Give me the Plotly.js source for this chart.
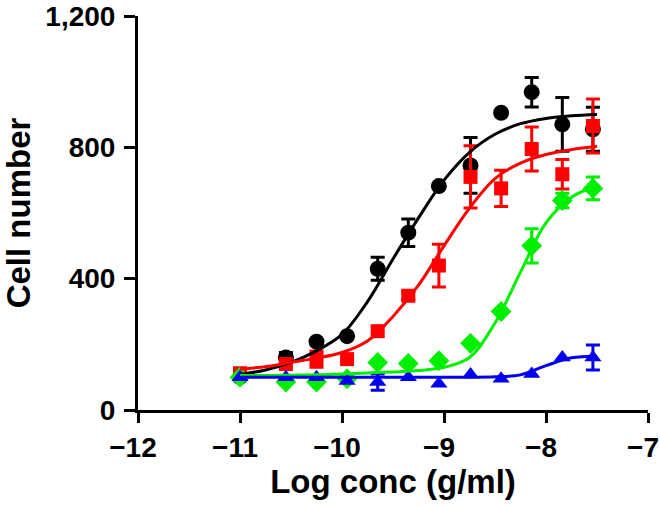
<!DOCTYPE html>
<html>
<head>
<meta charset="utf-8">
<script src="https://cdn.plot.ly/plotly-3.0.1.min.js"></script>
<style>html,body{margin:0;padding:0;background:#fff}#chart{width:660px;height:507px}</style>
</head>
<body>
<div id="chart"></div>
<script>
// Data points (log concentration, g/ml)
const logConc = [-11, -10.55, -10.25, -9.95, -9.65, -9.35, -9.05, -8.74, -8.44, -8.14, -7.84, -7.54];

const blackY   = [100, 160, 208, 225, 430, 540, 682, 745, 905, 968, 870, 855];
const blackErr = [null, 15, null, null, 35, 42, null, 85, null, 45, 82, 67];

const redY   = [112, 140, 155, 155, 240, 348, 440, 710, 675, 795, 718, 865];
const redErr = [null, null, 25, null, null, 12, 65, 95, 55, 67, 45, 82];

const greenY   = [100, 85, 85, 95, 145, 142, 150, 203, 300, 500, 638, 675];
const greenErr = [null, null, null, null, null, null, null, null, null, 52, 22, 35];

const blueY   = [100, 100, 100, 88, 85, 100, 80, 108, 95, 110, 160, 160];
const blueErr = [null, null, null, null, 25, null, null, null, null, null, null, 38];

// Fitted curves
const curveX     = [-11, -10.75, -10.5, -10.25, -10, -9.75, -9.5, -9.25, -9, -8.75, -8.5, -8.25, -8, -7.75, -7.5];
const blackCurve = [108, 122, 145, 180, 230, 330, 460, 585, 700, 785, 840, 872, 888, 896, 900];
const redCurve   = [125, 132, 145, 158, 175, 210, 285, 380, 500, 615, 705, 752, 778, 793, 803];
const greenCurve = [105, 105, 106, 107, 110, 113, 116, 120, 130, 160, 265, 420, 570, 648, 683];
const blueCurve  = [100, 100, 100, 100, 100, 100, 100, 100, 100, 100, 101, 107, 135, 159, 164];

// Axis ticks
const xTicks = [-12, -11, -10, -9, -8, -7];
const yTicks = [0, 400, 800, 1200];
const yTickText = ["0", "400", "800", "1,200"];

const toErr = a => a.map(v => (v === null ? NaN : v));

function pts(y, err, color, symbol, size) {
  return {
    x: logConc, y: y, type: 'scatter', mode: 'markers',
    marker: {color: color, symbol: symbol, size: size, line: {width: 0}},
    error_y: {type: 'data', array: toErr(err), visible: true, color: color, thickness: 3, width: 7},
    showlegend: false, hoverinfo: 'skip'
  };
}
function curve(y, color) {
  return {
    x: curveX, y: y, type: 'scatter', mode: 'lines',
    line: {color: color, width: 3, shape: 'spline', smoothing: 1},
    showlegend: false, hoverinfo: 'skip'
  };
}

const traces = [
  pts(blackY, blackErr, '#000000', 'circle', 16),
  pts(redY, redErr, '#ff0000', 'square', 14),
  pts(greenY, greenErr, '#00ee00', 'diamond', 16),
  pts(blueY, blueErr, '#0000ee', 'triangle-up', 15),
  curve(blackCurve, '#000000'),
  curve(redCurve, '#ff0000'),
  curve(greenCurve, '#00ee00'),
  curve(blueCurve, '#0000ee')
];

const fontFam = 'Liberation Sans, Arial, sans-serif';
const layout = {
  width: 660, height: 507,
  margin: {l: 138, r: 12, t: 16, b: 97},
  paper_bgcolor: '#ffffff', plot_bgcolor: '#ffffff',
  font: {family: fontFam, color: '#000', weight: 'bold'},
  xaxis: {
    range: [-12, -7], tickvals: xTicks, showgrid: false, zeroline: false,
    showline: true, linecolor: '#000', linewidth: 3,
    ticks: 'outside', ticklen: 10, tickwidth: 3, tickcolor: '#000',
    ticklabeloverflow: 'allow', ticklabelshift: -5,
    tickfont: {family: fontFam, size: 28, color: '#000', weight: 'bold'},
    title: {text: 'Log conc (g/ml)', font: {family: fontFam, size: 33, color: '#000', weight: 'bold'}, standoff: 6}
  },
  yaxis: {
    range: [0, 1200], tickvals: yTicks, ticktext: yTickText, showgrid: false, zeroline: false,
    showline: true, linecolor: '#000', linewidth: 3,
    ticks: 'outside', ticklen: 11, tickwidth: 3, tickcolor: '#000',
    ticklabeloverflow: 'allow', ticklabelstandoff: 3,
    tickfont: {family: fontFam, size: 28, color: '#000', weight: 'bold'},
    title: {text: 'Cell number', font: {family: fontFam, size: 33, color: '#000', weight: 'bold'}, standoff: 36}
  }
};

Plotly.newPlot('chart', traces, layout, {displayModeBar: false, staticPlot: true});
</script>
</body>
</html>
